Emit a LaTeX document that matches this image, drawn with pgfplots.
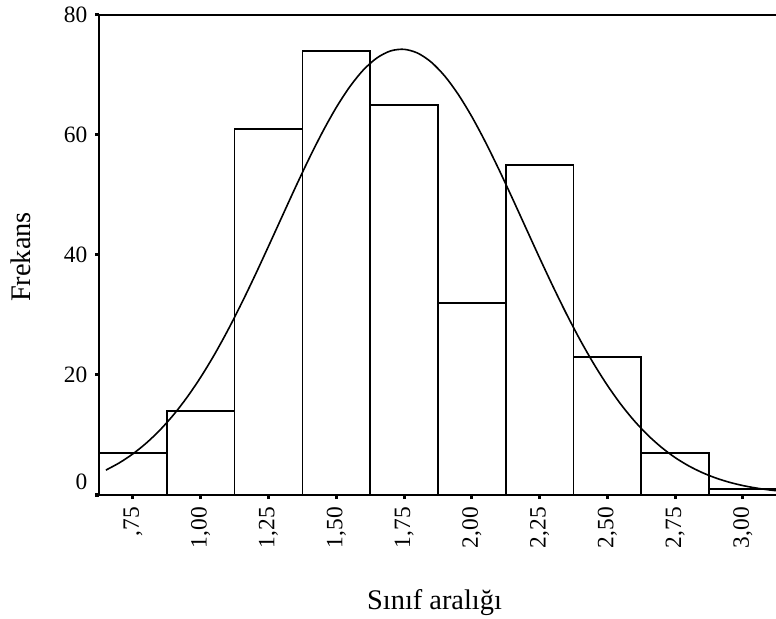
\documentclass[border=0pt]{standalone}
\usepackage{fontspec}
\setmainfont{Liberation Serif}
\usepackage{pgfplots}
\pgfplotsset{compat=1.18}
\begin{document}
\begin{tikzpicture}
\useasboundingbox (0,0) rectangle (776bp,619bp);
\begin{axis}[
  at={(99.1bp,124bp)}, anchor=south west,
  scale only axis, width=681.8bp, height=480bp,
  xmin=0.625, xmax=3.14, ymin=0, ymax=80,
  axis line style={line width=1.8bp},
  tick align=outside,
  major tick length=4bp,
  tick style={line width=3bp, black},
  xtick pos=bottom, ytick pos=left,
  xtick={0.75,1.00,1.25,1.50,1.75,2.00,2.25,2.50,2.75,3.00},
  xticklabels={{,75},{1,00},{1,25},{1,50},{1,75},{2,00},{2,25},{2,50},{2,75},{3,00}},
  ytick={20,40,60,80},
  yticklabels={20,40,60,80},
  extra y ticks={0},
  extra y tick labels={0},
  extra y tick style={yticklabel style={yshift=13bp}},
  ticklabel style={font=\fontsize{23.5}{24}\selectfont},
  xticklabel style={rotate=90, anchor=east, inner sep=0pt, xshift=-8bp},
  yticklabel style={anchor=east, inner sep=0pt, xshift=-7.6bp},
  xlabel={Sınıf aralığı},
  ylabel={Frekans},
  label style={font=\fontsize{28.5}{30}\selectfont},
  xlabel style={at={(axis description cs:0.492,-0.2375)}, anchor=base},
  ylabel style={at={(axis description cs:-0.1013,0.496)}, anchor=base},
]
\addplot[ybar interval, fill=white, draw=black, line width=1.6bp] coordinates {
  (0.625,7) (0.875,14) (1.125,61) (1.375,74) (1.625,65) (1.875,32)
  (2.125,55) (2.375,23) (2.625,7) (2.875,1) (3.125,1)
};
\addplot[smooth, no marks, black, line width=1.6bp] coordinates {
  (0.65,4.15) (0.70,5.37) (0.75,6.87) (0.80,8.69) (0.85,10.85) (0.90,13.39)
  (0.95,16.32) (1.00,19.65) (1.05,23.37) (1.10,27.47) (1.15,31.90) (1.20,36.59)
  (1.25,41.47) (1.30,46.42) (1.35,51.35) (1.40,56.11) (1.45,60.57) (1.50,64.60)
  (1.55,68.06) (1.60,70.85) (1.65,72.85) (1.70,74.01) (1.75,74.28) (1.80,73.65)
  (1.85,72.15) (1.90,69.82) (1.95,66.75) (2.00,63.05) (2.05,58.83) (2.10,54.23)
  (2.15,49.39) (2.20,44.44) (2.25,39.50) (2.30,34.69) (2.35,30.09) (2.40,25.79)
  (2.45,21.84) (2.50,18.27) (2.55,15.09) (2.60,12.32) (2.65,9.94) (2.70,7.92)
  (2.75,6.23) (2.80,4.85) (2.85,3.73) (2.90,2.83) (2.95,2.12) (3.00,1.57)
  (3.05,1.15) (3.10,0.83) (3.14,0.64)
};
\end{axis}
\end{tikzpicture}
\end{document}
